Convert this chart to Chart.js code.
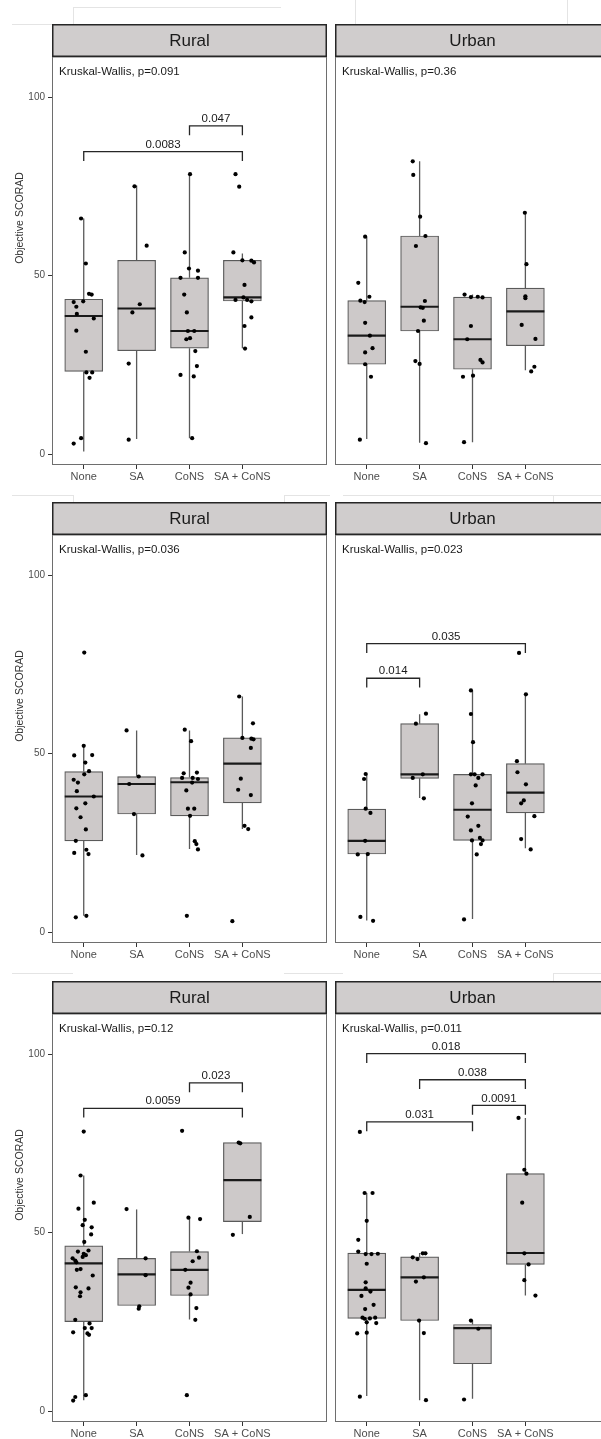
<!DOCTYPE html>
<html>
<head>
<meta charset="utf-8">
<script src="https://cdn.jsdelivr.net/npm/chart.js@4/dist/chart.umd.min.js"></script>
<style>
  html, body { margin: 0; padding: 0; background: #fff; overflow: hidden; width: 601px; height: 1439px; }
  .panel { position: absolute; }
  .ghost { position: absolute; background: #e4e4e4; }
</style>
</head>
<body>
<!-- faint frame lines around the figure tiles -->
<div class="ghost" style="left:73px;top:7px;width:208px;height:1px"></div>
<div class="ghost" style="left:73px;top:7px;width:1px;height:17px"></div>
<div class="ghost" style="left:12px;top:24px;width:61px;height:1px"></div>
<div class="ghost" style="left:355px;top:0px;width:1px;height:24px"></div>
<div class="ghost" style="left:567px;top:0px;width:1px;height:24px"></div>
<div class="ghost" style="left:12px;top:495px;width:61px;height:1px"></div>
<div class="ghost" style="left:73px;top:495px;width:1px;height:8px"></div>
<div class="ghost" style="left:284px;top:495px;width:46px;height:1px"></div>
<div class="ghost" style="left:284px;top:495px;width:1px;height:8px"></div>
<div class="ghost" style="left:343px;top:495px;width:258px;height:1px"></div>
<div class="ghost" style="left:553px;top:495px;width:1px;height:8px"></div>
<div class="ghost" style="left:12px;top:973px;width:61px;height:1px"></div>
<div class="ghost" style="left:284px;top:973px;width:46px;height:1px"></div>
<div class="ghost" style="left:300px;top:973px;width:43px;height:1px"></div>
<div class="ghost" style="left:553px;top:973px;width:48px;height:1px"></div>
<div class="ghost" style="left:553px;top:973px;width:1px;height:9px"></div>

<div class="panel" style="left:0;top:0"><canvas id="r1Rural" width="331" height="490"></canvas></div>
<div class="panel" style="left:331px;top:0"><canvas id="r1Urban" width="283" height="490"></canvas></div>
<div class="panel" style="left:0;top:478px"><canvas id="r2Rural" width="331" height="490"></canvas></div>
<div class="panel" style="left:331px;top:478px"><canvas id="r2Urban" width="283" height="490"></canvas></div>
<div class="panel" style="left:0;top:957px"><canvas id="r3Rural" width="331" height="490"></canvas></div>
<div class="panel" style="left:331px;top:957px"><canvas id="r3Urban" width="283" height="490"></canvas></div>

<script>
// ---- shared labels ----
const categories = ['None', 'SA', 'CoNS', 'SA + CoNS'];
const facets = ['Rural', 'Urban'];
const yTicks = [0, 50, 100];
const yAxisTitle = 'Objective SCORAD';

// ---- box statistics per group: [lower whisker, Q1, median, Q3, upper whisker] ----
const r1RuralBoxes = [[0.8, 23.2, 38.7, 43.4, 66.0], [4.3, 29.0, 40.8, 54.3, 75.2], [4.5, 29.7, 34.5, 49.4, 78.4], [29.7, 42.9, 43.9, 54.3, 56.2]];
const r1UrbanBoxes = [[4.3, 25.2, 33.2, 43.0, 60.9], [3.2, 34.5, 41.3, 61.1, 82.0], [3.4, 23.8, 32.2, 44.0, 44.7], [23.5, 30.4, 40.0, 46.5, 67.6]];
const r2RuralBoxes = [[4.6, 25.6, 38.0, 45.0, 52.2], [21.6, 33.1, 41.5, 43.6, 56.5], [23.3, 32.6, 42.0, 43.3, 56.5], [28.9, 36.2, 47.2, 54.4, 66.0]];
const r2UrbanBoxes = [[3.3, 21.9, 25.6, 34.5, 44.4], [37.6, 43.1, 44.2, 58.4, 61.0], [3.7, 25.7, 34.3, 44.2, 67.7], [23.5, 33.4, 39.1, 47.2, 66.6]];
const r3RuralBoxes = [[3.1, 25.1, 41.4, 46.3, 66.0], [29.6, 29.6, 38.3, 42.8, 56.5], [25.7, 32.4, 39.6, 44.7, 54.0], [49.6, 53.1, 64.7, 75.2, 75.2]];
const r3UrbanBoxes = [[4.3, 26.0, 34.0, 44.3, 61.1], [3.1, 25.4, 37.5, 43.2, 44.3], [3.5, 13.3, 23.3, 24.3, 25.4], [32.4, 41.1, 44.3, 66.5, 82.1]];

// ---- individual scores (Objective SCORAD) and their horizontal jitter (category units) ----
const r1RuralNone = [66.0, 53.4, 44.9, 44.7, 42.6, 42.8, 41.3, 39.3, 38.0, 34.6, 28.7, 22.9, 22.9, 21.4, 4.5, 3.0];
const r1RuralNoneJit = [-0.05, 0.04, 0.10, 0.15, -0.19, -0.01, -0.14, -0.13, 0.19, -0.14, 0.04, 0.05, 0.16, 0.11, -0.05, -0.19];
const r1RuralSA = [75.0, 58.4, 42.0, 39.7, 25.4, 4.1];
const r1RuralSAJit = [-0.04, 0.19, 0.06, -0.08, -0.15, -0.15];
const r1RuralCoNS = [78.4, 56.5, 52.0, 51.4, 49.4, 49.4, 44.7, 39.7, 34.5, 34.5, 32.2, 32.5, 28.9, 24.7, 22.2, 21.8, 4.5];
const r1RuralCoNSJit = [0.01, -0.09, -0.01, 0.16, -0.17, 0.16, -0.10, -0.05, -0.03, 0.09, -0.06, 0.01, 0.11, 0.14, -0.17, 0.08, 0.05];
const r1RuralBoth = [78.4, 74.9, 56.5, 54.3, 54.2, 53.7, 47.4, 43.2, 43.9, 43.2, 42.8, 35.9, 38.3, 29.6];
const r1RuralBothJit = [-0.13, -0.06, -0.17, 0, 0.17, 0.22, 0.04, -0.13, 0.02, 0.09, 0.17, 0.04, 0.17, 0.05];

const r1UrbanNone = [60.9, 48.0, 44.1, 43.0, 42.6, 36.8, 33.2, 29.7, 28.5, 25.2, 21.7, 4.1];
const r1UrbanNoneJit = [-0.03, -0.16, 0.05, -0.12, -0.04, -0.03, 0.06, 0.11, -0.03, -0.03, 0.08, -0.13];
const r1UrbanSA = [82.0, 78.2, 66.5, 61.1, 58.3, 42.9, 41.1, 41.0, 37.4, 34.5, 26.1, 25.3, 3.1];
const r1UrbanSAJit = [-0.13, -0.12, 0.01, 0.11, -0.07, 0.10, 0.02, 0.06, 0.08, -0.03, -0.08, 0, 0.12];
const r1UrbanCoNS = [44.7, 44.0, 44.1, 43.9, 35.9, 32.2, 26.4, 25.7, 21.7, 22.0, 3.4];
const r1UrbanCoNSJit = [-0.15, -0.03, 0.10, 0.19, -0.03, -0.10, 0.15, 0.19, -0.18, 0.01, -0.16];
const r1UrbanBoth = [67.6, 53.2, 44.2, 43.7, 36.2, 32.3, 24.5, 23.2];
const r1UrbanBothJit = [-0.01, 0.02, 0, 0, -0.07, 0.19, 0.17, 0.11];

const r2RuralNone = [78.3, 52.2, 49.5, 49.6, 47.5, 45.1, 44.2, 42.7, 41.9, 39.5, 38.0, 36.1, 34.7, 32.2, 28.8, 25.6, 23.1, 22.2, 21.9, 4.6, 4.2];
const r2RuralNoneJit = [0.01, 0, -0.18, 0.16, 0.03, 0.10, 0.01, -0.19, -0.11, -0.13, 0.19, 0.03, -0.14, -0.06, 0.04, -0.15, 0.05, -0.18, 0.09, 0.05, -0.15];
const r2RuralSA = [56.5, 43.6, 41.5, 33.1, 21.5];
const r2RuralSAJit = [-0.19, 0.04, -0.14, -0.05, 0.11];
const r2RuralCoNS = [56.7, 53.5, 44.5, 44.7, 43.2, 43.2, 42.9, 41.9, 39.7, 34.6, 34.6, 32.6, 25.5, 24.7, 23.2, 4.6];
const r2RuralCoNSJit = [-0.09, 0.03, -0.11, 0.14, -0.14, 0.06, 0.16, 0.05, -0.06, -0.03, 0.09, 0.01, 0.10, 0.13, 0.16, -0.05];
const r2RuralBoth = [66.0, 58.5, 54.4, 54.2, 54.0, 51.6, 43.0, 39.9, 38.4, 29.8, 28.9, 3.1];
const r2RuralBothJit = [-0.06, 0.20, 0, 0.17, 0.21, 0.16, -0.03, -0.08, 0.16, 0.04, 0.11, -0.19];

const r2UrbanNone = [44.3, 42.9, 34.6, 33.4, 25.6, 21.8, 21.9, 4.3, 3.2];
const r2UrbanNoneJit = [-0.02, -0.05, -0.02, 0.07, -0.03, -0.17, 0.02, -0.12, 0.12];
const r2UrbanSA = [61.2, 58.4, 44.2, 43.2, 37.5];
const r2UrbanSAJit = [0.12, -0.07, 0.06, -0.13, 0.08];
const r2UrbanCoNS = [67.7, 61.1, 53.2, 44.2, 44.2, 44.2, 43.2, 41.1, 36.1, 32.4, 29.8, 28.5, 25.7, 26.4, 25.7, 24.7, 21.8, 3.6];
const r2UrbanCoNSJit = [-0.03, -0.03, 0.01, -0.03, 0.04, 0.19, 0.11, 0.06, -0.01, -0.09, 0.11, -0.03, -0.01, 0.14, 0.19, 0.16, 0.08, -0.16];
const r2UrbanBoth = [78.2, 66.6, 47.9, 44.8, 41.4, 36.9, 36.1, 32.5, 26.1, 23.2];
const r2UrbanBothJit = [-0.12, 0.01, -0.16, -0.15, 0.01, -0.03, -0.08, 0.17, -0.08, 0.10];

const r3RuralNone = [78.3, 66.0, 58.4, 56.7, 53.6, 52.1, 51.5, 49.5, 47.4, 44.7, 45.0, 44.1, 43.7, 42.8, 42.2, 41.7, 43.2, 39.6, 39.8, 38.0, 34.7, 34.4, 33.3, 32.2, 25.6, 24.6, 23.3, 23.3, 22.1, 21.8, 21.4, 4.5, 4.0, 3.0];
const r3RuralNoneJit = [0, -0.06, 0.19, -0.10, 0.02, -0.02, 0.15, 0.14, 0.01, -0.11, 0.09, 0, 0.04, -0.21, -0.16, -0.14, -0.02, -0.13, -0.06, 0.17, -0.15, 0.09, -0.06, -0.07, -0.16, 0.11, 0.02, 0.15, -0.20, 0.07, 0.10, 0.04, -0.16, -0.20];
const r3RuralSA = [56.6, 42.8, 38.1, 29.4, 28.7];
const r3RuralSAJit = [-0.19, 0.17, 0.17, 0.05, 0.04];
const r3RuralCoNS = [78.5, 54.2, 53.8, 44.8, 43.0, 42.0, 39.6, 36.0, 34.6, 32.7, 28.9, 25.6, 4.5];
const r3RuralCoNSJit = [-0.14, -0.02, 0.20, 0.14, 0.18, 0.06, -0.08, 0.02, -0.02, 0.02, 0.13, 0.11, -0.05];
const r3RuralBoth = [75.2, 75.0, 54.4, 49.4];
const r3RuralBothJit = [-0.07, -0.04, 0.14, -0.18];

const r3UrbanNone = [78.2, 61.1, 61.1, 53.3, 48.0, 44.7, 44.0, 44.0, 44.1, 41.3, 36.1, 34.4, 33.5, 32.3, 29.8, 28.6, 26.2, 25.9, 26.0, 26.2, 24.9, 24.7, 21.8, 22.0, 4.1];
const r3UrbanNoneJit = [-0.13, -0.04, 0.11, 0, -0.16, -0.16, -0.02, 0.09, 0.21, 0, -0.02, -0.02, 0.07, -0.10, 0.13, -0.03, -0.08, -0.04, 0.06, 0.16, 0, 0.18, -0.18, 0, -0.13];
const r3UrbanSA = [43.1, 42.6, 44.2, 44.2, 36.3, 37.5, 25.4, 21.9, 3.1];
const r3UrbanSAJit = [-0.13, -0.04, 0.06, 0.11, -0.07, 0.08, -0.01, 0.08, 0.12];
const r3UrbanCoNS = [25.4, 23.1, 3.3];
const r3UrbanCoNSJit = [-0.03, 0.11, -0.16];
const r3UrbanBoth = [82.1, 67.6, 66.5, 58.4, 44.2, 41.1, 36.7, 32.4];
const r3UrbanBothJit = [-0.13, -0.02, 0.02, -0.06, -0.02, 0.06, -0.02, 0.19];

// ---- pairwise comparisons: [group A, group B, bracket height, p-value] ----
const r1RuralPairs = [['CoNS', 'SA + CoNS', 91.9, '0.047'], ['None', 'SA + CoNS', 84.7, '0.0083']];
const r1UrbanPairs = [];
const r2RuralPairs = [];
const r2UrbanPairs = [['None', 'SA + CoNS', 80.8, '0.035'], ['None', 'SA', 71.1, '0.014']];
const r3RuralPairs = [['CoNS', 'SA + CoNS', 91.9, '0.023'], ['None', 'SA + CoNS', 84.8, '0.0059']];
const r3UrbanPairs = [['None', 'SA + CoNS', 100.1, '0.018'], ['SA', 'SA + CoNS', 92.8, '0.038'], ['CoNS', 'SA + CoNS', 85.6, '0.0091'], ['None', 'CoNS', 81.0, '0.031']];

// ---- Kruskal-Wallis p-values per panel ----
const kruskalP = { r1Rural: '0.091', r1Urban: '0.36', r2Rural: '0.036', r2Urban: '0.023', r3Rural: '0.12', r3Urban: '0.011' };

// ---- drawing ----
const FONT = "'Liberation Sans', Arial, Helvetica, sans-serif";
const STRIP_H = 33;
const TIP = 2.6;

function facetPlugin(p) {
  return {
    id: 'facetDecor',
    beforeDatasetsDraw(chart) {
      const { ctx, scales: { x, y } } = chart;
      ctx.save();
      ctx.strokeStyle = '#5a5a5a';
      ctx.lineWidth = 1.3;
      p.boxes.forEach((b, i) => {
        const px = x.getPixelForValue(i);
        ctx.beginPath();
        ctx.moveTo(px, y.getPixelForValue(b[0]));
        ctx.lineTo(px, y.getPixelForValue(b[1]));
        ctx.moveTo(px, y.getPixelForValue(b[3]));
        ctx.lineTo(px, y.getPixelForValue(b[4]));
        ctx.stroke();
      });
      ctx.restore();
    },
    afterDatasetDraw(chart, args) {
      if (args.meta.type !== 'bar') return;
      const { ctx, scales: { y } } = chart;
      ctx.save();
      ctx.strokeStyle = '#1a1a1a';
      ctx.lineWidth = 2.2;
      args.meta.data.forEach((bar, i) => {
        const half = bar.width / 2;
        const py = y.getPixelForValue(p.boxes[i][2]);
        ctx.beginPath();
        ctx.moveTo(bar.x - half, py);
        ctx.lineTo(bar.x + half, py);
        ctx.stroke();
      });
      ctx.restore();
    },
    afterDraw(chart) {
      const { ctx, chartArea: a, scales: { x, y } } = chart;
      ctx.save();
      // panel border
      ctx.strokeStyle = '#6e6e6e';
      ctx.lineWidth = 1;
      ctx.strokeRect(a.left + 0.5, a.top, a.right - a.left - 1, a.bottom - a.top - 0.5);
      // facet strip
      ctx.fillStyle = '#d0cdcd';
      ctx.fillRect(a.left, a.top - STRIP_H, a.right - a.left, STRIP_H);
      ctx.strokeStyle = '#262626';
      ctx.lineWidth = 1.5;
      ctx.strokeRect(a.left + 0.75, a.top - STRIP_H + 0.75, a.right - a.left - 1.5, STRIP_H - 1.5);
      ctx.fillStyle = '#1a1a1a';
      ctx.font = '17px ' + FONT;
      ctx.textAlign = 'center';
      ctx.textBaseline = 'middle';
      ctx.fillText(p.facet, (a.left + a.right) / 2, a.top - STRIP_H / 2 + 1);
      // global test label
      ctx.font = '11.5px ' + FONT;
      ctx.textAlign = 'left';
      ctx.fillText('Kruskal-Wallis, p=' + p.kw, a.left + 7, a.top + 15);
      // comparison brackets
      ctx.strokeStyle = '#262626';
      ctx.lineWidth = 1.3;
      ctx.font = '11.5px ' + FONT;
      ctx.textAlign = 'center';
      p.pairs.forEach(([g1, g2, h, lab]) => {
        const x1 = x.getPixelForValue(categories.indexOf(g1));
        const x2 = x.getPixelForValue(categories.indexOf(g2));
        const yb = y.getPixelForValue(h);
        const yt = y.getPixelForValue(h - TIP);
        ctx.beginPath();
        ctx.moveTo(x1, yt);
        ctx.lineTo(x1, yb);
        ctx.lineTo(x2, yb);
        ctx.lineTo(x2, yt);
        ctx.stroke();
        ctx.fillText(lab, (x1 + x2) / 2, yb - 7);
      });
      // y axis title
      if (p.showY) {
        ctx.translate(20, 218);
        ctx.rotate(-Math.PI / 2);
        ctx.fillStyle = '#333';
        ctx.font = '10.5px ' + FONT;
        ctx.fillText(yAxisTitle, 0, 0);
      }
      ctx.restore();
    }
  };
}

function drawPanel(id, p) {
  const points = [];
  p.values.forEach((vals, i) => {
    vals.forEach((v, k) => points.push({ x: i + p.jitter[i][k], y: v }));
  });
  new Chart(document.getElementById(id), {
    type: 'bar',
    data: {
      datasets: [
        {
          type: 'scatter',
          data: points,
          pointRadius: 2.1,
          pointBackgroundColor: '#000',
          pointBorderWidth: 0,
          order: 0
        },
        {
          type: 'bar',
          data: p.boxes.map((b, i) => ({ x: i, y: [b[1], b[3]] })),
          backgroundColor: '#cdc9c9',
          borderColor: '#5a5a5a',
          borderWidth: 1.2,
          borderSkipped: false,
          barThickness: 38,
          order: 1
        }
      ]
    },
    options: {
      responsive: false,
      animation: false,
      devicePixelRatio: 1,
      events: [],
      layout: { padding: p.showY ? { left: 0, right: 3, top: 57, bottom: 0 } : { left: 3, right: 3, top: 57, bottom: 0 } },
      plugins: { legend: { display: false }, tooltip: { enabled: false } },
      scales: {
        x: {
          type: 'linear',
          min: -0.6,
          max: 4.6,
          offset: false,
          afterBuildTicks: s => { s.ticks = categories.map((c, i) => ({ value: i })); },
          afterFit: s => { s.height = 25; },
          ticks: {
            callback: v => categories[v],
            autoSkip: false,
            maxRotation: 0,
            padding: 1,
            color: '#4d4d4d',
            font: { family: FONT, size: 11 }
          },
          grid: { offset: false, drawOnChartArea: false, drawTicks: true, tickLength: 4, color: '#333', lineWidth: 1 },
          border: { display: false }
        },
        y: {
          type: 'linear',
          display: p.showY,
          min: -3,
          max: 111.2,
          afterBuildTicks: s => { s.ticks = yTicks.map(v => ({ value: v })); },
          afterFit: s => { s.width = p.showY ? 52 : 0; },
          ticks: { padding: 3, color: '#4d4d4d', font: { family: FONT, size: 10 } },
          grid: { offset: false, drawOnChartArea: false, drawTicks: true, tickLength: 4, color: '#333', lineWidth: 1 },
          border: { display: false }
        }
      }
    },
    plugins: [facetPlugin(p)]
  });
}

drawPanel('r1Rural', { facet: facets[0], showY: true, kw: kruskalP.r1Rural, boxes: r1RuralBoxes, pairs: r1RuralPairs,
  values: [r1RuralNone, r1RuralSA, r1RuralCoNS, r1RuralBoth], jitter: [r1RuralNoneJit, r1RuralSAJit, r1RuralCoNSJit, r1RuralBothJit] });
drawPanel('r1Urban', { facet: facets[1], showY: false, kw: kruskalP.r1Urban, boxes: r1UrbanBoxes, pairs: r1UrbanPairs,
  values: [r1UrbanNone, r1UrbanSA, r1UrbanCoNS, r1UrbanBoth], jitter: [r1UrbanNoneJit, r1UrbanSAJit, r1UrbanCoNSJit, r1UrbanBothJit] });
drawPanel('r2Rural', { facet: facets[0], showY: true, kw: kruskalP.r2Rural, boxes: r2RuralBoxes, pairs: r2RuralPairs,
  values: [r2RuralNone, r2RuralSA, r2RuralCoNS, r2RuralBoth], jitter: [r2RuralNoneJit, r2RuralSAJit, r2RuralCoNSJit, r2RuralBothJit] });
drawPanel('r2Urban', { facet: facets[1], showY: false, kw: kruskalP.r2Urban, boxes: r2UrbanBoxes, pairs: r2UrbanPairs,
  values: [r2UrbanNone, r2UrbanSA, r2UrbanCoNS, r2UrbanBoth], jitter: [r2UrbanNoneJit, r2UrbanSAJit, r2UrbanCoNSJit, r2UrbanBothJit] });
drawPanel('r3Rural', { facet: facets[0], showY: true, kw: kruskalP.r3Rural, boxes: r3RuralBoxes, pairs: r3RuralPairs,
  values: [r3RuralNone, r3RuralSA, r3RuralCoNS, r3RuralBoth], jitter: [r3RuralNoneJit, r3RuralSAJit, r3RuralCoNSJit, r3RuralBothJit] });
drawPanel('r3Urban', { facet: facets[1], showY: false, kw: kruskalP.r3Urban, boxes: r3UrbanBoxes, pairs: r3UrbanPairs,
  values: [r3UrbanNone, r3UrbanSA, r3UrbanCoNS, r3UrbanBoth], jitter: [r3UrbanNoneJit, r3UrbanSAJit, r3UrbanCoNSJit, r3UrbanBothJit] });
</script>
</body>
</html>
